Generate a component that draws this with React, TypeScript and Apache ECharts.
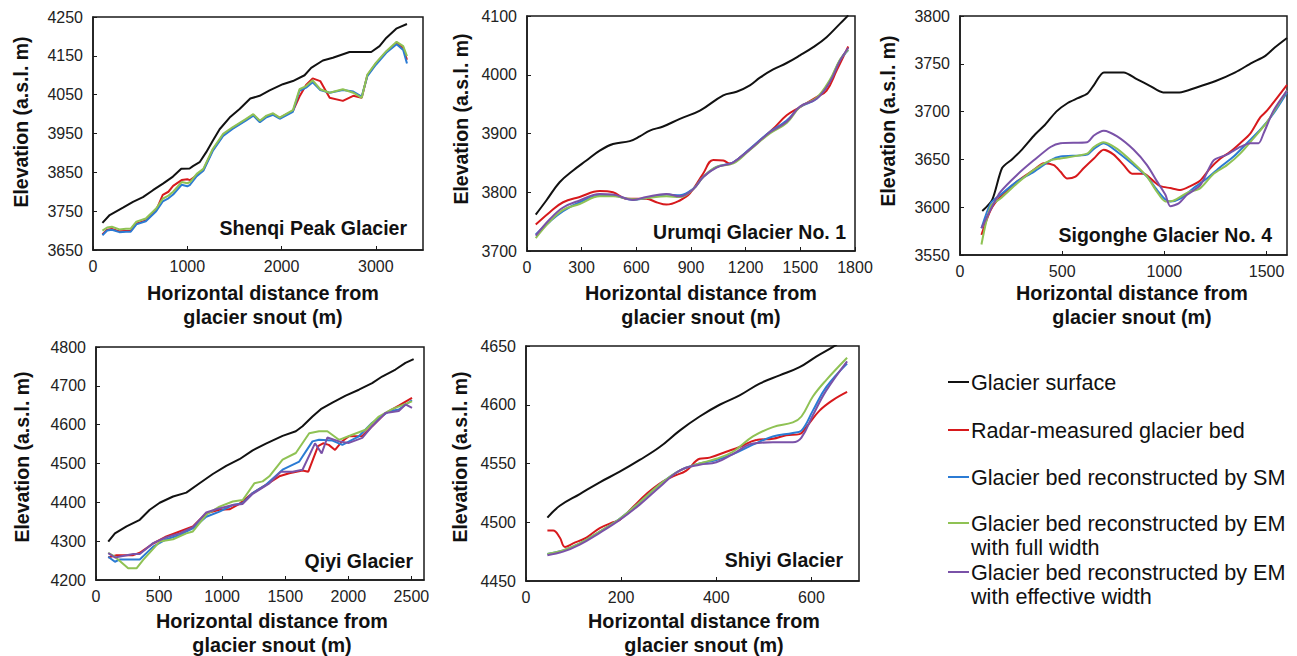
import React, { useEffect, useRef } from "react";
import * as echarts from "echarts";

// ---------- labels ----------
const seriesNames = [
  "Glacier surface",
  "Radar-measured glacier bed",
  "Glacier bed reconstructed by SM",
  "Glacier bed reconstructed by EM\nwith full width",
  "Glacier bed reconstructed by EM\nwith effective width",
];
const glacierNames = [
  "Shenqi Peak Glacier",
  "Urumqi Glacier No. 1",
  "Sigonghe Glacier No. 4",
  "Qiyi Glacier",
  "Shiyi Glacier",
];
const yAxisTitle = "Elevation (a.s.l. m)";
const xAxisTitle = ["Horizontal distance from", "glacier snout (m)"];

// ---------- axis ranges ----------
const xMax = [3500, 1800, 1600, 2600, 700];
const xInterval = [1000, 300, 500, 500, 200];
const yMin = [3650, 3700, 3550, 4200, 4450];
const yMax = [4250, 4100, 3800, 4800, 4650];
const yInterval = [100, 100, 50, 100, 50];

// ---------- Shenqi Peak Glacier ----------
const shenqiSurfaceX = [100, 177, 318, 424, 530, 636, 742, 848, 936, 1025, 1060, 1131, 1201, 1272, 1343, 1449, 1555, 1668, 1767, 1873, 2014, 2120, 2244, 2314, 2438, 2544, 2721, 2951, 3039, 3110, 3216, 3330];
const shenqiSurfaceY = [3720, 3740, 3759, 3774, 3786, 3804, 3821, 3839, 3859, 3860, 3866, 3876, 3902, 3932, 3961, 3991, 4013, 4040, 4047, 4061, 4077, 4085, 4100, 4119, 4138, 4145, 4160, 4160, 4175, 4196, 4220, 4232];
const shenqiBedX = [100, 150, 200, 280, 350, 400, 460, 560, 670, 740, 800, 850, 940, 1000, 1030, 1100, 1170, 1270, 1380, 1480, 1620, 1700, 1770, 1840, 1910, 1980, 2120, 2190, 2260, 2330, 2410, 2510, 2650, 2760, 2850, 2910, 3000, 3110, 3220, 3290, 3330];
const shenqiRadarY = [3690, 3702, 3704, 3698, 3699, 3699, 3718, 3726, 3752, 3792, 3800, 3815, 3830, 3832, 3830, 3842, 3856, 3908, 3946, 3964, 3985, 3998, 3981, 3994, 4000, 3990, 4008, 4045, 4075, 4092, 4085, 4042, 4034, 4047, 4042, 4100, 4130, 4160, 4183, 4170, 4140];
const shenqiSMY = [3688, 3700, 3702, 3696, 3697, 3697, 3716, 3724, 3750, 3775, 3783, 3793, 3818, 3814, 3818, 3840, 3854, 3905, 3944, 3962, 3983, 3996, 3979, 3992, 3998, 3988, 4006, 4060, 4068, 4082, 4062, 4055, 4062, 4058, 4045, 4098, 4127, 4158, 4180, 4165, 4130];
const shenqiEMFullY = [3700, 3708, 3710, 3703, 3705, 3705, 3723, 3731, 3757, 3782, 3790, 3800, 3825, 3822, 3825, 3846, 3859, 3910, 3949, 3966, 3987, 4000, 3983, 3996, 4002, 3991, 4010, 4064, 4072, 4087, 4064, 4055, 4064, 4055, 4042, 4102, 4132, 4162, 4186, 4175, 4149];

// ---------- Urumqi Glacier No. 1 ----------
const urumqiSurfaceX = [48, 106, 179, 253, 326, 399, 472, 564, 619, 674, 747, 839, 949, 1077, 1150, 1223, 1278, 1351, 1425, 1498, 1571, 1644, 1718, 1763];
const urumqiSurfaceY = [3762, 3786, 3817, 3837, 3854, 3871, 3882, 3887, 3895, 3905, 3912, 3925, 3939, 3965, 3971, 3982, 3995, 4009, 4020, 4033, 4047, 4064, 4087, 4101];
const urumqiRadarX = [48, 125, 198, 289, 399, 472, 545, 655, 710, 765, 839, 894, 967, 1022, 1077, 1113, 1168, 1260, 1351, 1425, 1498, 1589, 1644, 1699, 1763];
const urumqiRadarY = [3745, 3766, 3783, 3792, 3802, 3800, 3789, 3789, 3783, 3779, 3786, 3798, 3832, 3855, 3854, 3849, 3859, 3883, 3908, 3931, 3945, 3962, 3973, 4007, 4048];
const urumqiModelX = [48, 125, 198, 289, 399, 472, 582, 655, 765, 839, 912, 967, 1040, 1132, 1223, 1333, 1425, 1498, 1589, 1663, 1718, 1763];
const urumqiSMY = [3728, 3750, 3768, 3783, 3794, 3794, 3787, 3790, 3796, 3795, 3806, 3826, 3843, 3851, 3874, 3903, 3922, 3945, 3959, 3990, 4025, 4042];
const urumqiEMFullY = [3722, 3750, 3770, 3780, 3793, 3793, 3788, 3790, 3793, 3792, 3805, 3826, 3843, 3849, 3872, 3900, 3918, 3945, 3961, 3992, 4026, 4043];
const urumqiEMEffY = [3726, 3754, 3774, 3786, 3797, 3796, 3787, 3792, 3797, 3793, 3805, 3826, 3842, 3851, 3873, 3902, 3920, 3946, 3959, 3988, 4024, 4046];

// ---------- Sigonghe Glacier No. 4 ----------
const sigongheSurfaceX = [109, 158, 206, 254, 302, 367, 415, 471, 527, 576, 624, 656, 704, 801, 865, 929, 994, 1074, 1154, 1251, 1347, 1428, 1492, 1540, 1600];
const sigongheSurfaceY = [3596, 3608, 3641, 3650, 3660, 3676, 3686, 3700, 3709, 3714, 3719, 3728, 3741, 3741, 3734, 3727, 3720, 3720, 3725, 3732, 3741, 3751, 3758, 3767, 3777];
const sigongheRadarX = [105, 150, 198, 280, 361, 410, 459, 492, 524, 565, 606, 655, 703, 752, 801, 842, 899, 948, 980, 1029, 1078, 1127, 1176, 1225, 1274, 1322, 1371, 1420, 1469, 1502, 1600];
const sigongheRadarY = [3571, 3597, 3611, 3627, 3639, 3646, 3644, 3637, 3630, 3632, 3641, 3651, 3660, 3655, 3644, 3635, 3635, 3627, 3622, 3620, 3618, 3622, 3628, 3641, 3651, 3658, 3667, 3677, 3694, 3701, 3728];
const sigongheSMX = [105, 150, 198, 280, 361, 443, 492, 622, 655, 703, 769, 850, 915, 964, 1005, 1029, 1078, 1143, 1208, 1274, 1339, 1404, 1469, 1534, 1600];
const sigongheSMY = [3578, 3604, 3613, 3627, 3637, 3649, 3653, 3655, 3661, 3667, 3658, 3644, 3632, 3618, 3608, 3606, 3609, 3620, 3630, 3642, 3653, 3667, 3681, 3698, 3720];
const sigongheEMFullX = [105, 150, 198, 280, 361, 443, 492, 622, 655, 703, 769, 850, 915, 964, 1005, 1046, 1111, 1176, 1241, 1306, 1371, 1436, 1502, 1600];
const sigongheEMFullY = [3561, 3601, 3609, 3625, 3639, 3649, 3651, 3656, 3663, 3668, 3661, 3646, 3632, 3616, 3606, 3607, 3615, 3620, 3635, 3644, 3656, 3672, 3689, 3722];
const sigongheEMEffX = [105, 158, 198, 280, 361, 443, 492, 622, 655, 703, 769, 850, 915, 964, 1005, 1029, 1070, 1111, 1176, 1241, 1306, 1371, 1420, 1461, 1485, 1534, 1600];
const sigongheEMEffY = [3578, 3601, 3616, 3634, 3649, 3663, 3667, 3668, 3675, 3680, 3674, 3660, 3644, 3627, 3613, 3601, 3604, 3613, 3623, 3649, 3655, 3663, 3667, 3667, 3677, 3701, 3722];

// ---------- Qiyi Glacier ----------
const qiyiSurfaceX = [97, 150, 242, 347, 426, 505, 611, 716, 821, 926, 1032, 1137, 1242, 1347, 1479, 1584, 1637, 1716, 1782, 1874, 1979, 2084, 2189, 2268, 2374, 2453, 2518];
const qiyiSurfaceY = [4299, 4320, 4338, 4355, 4381, 4399, 4415, 4425, 4449, 4473, 4494, 4511, 4534, 4551, 4571, 4583, 4596, 4621, 4640, 4657, 4675, 4690, 4707, 4724, 4742, 4759, 4769];
const qiyiRadarX = [97, 163, 295, 347, 453, 558, 663, 768, 874, 979, 1058, 1137, 1242, 1347, 1453, 1532, 1637, 1683, 1760, 1800, 1845, 1895, 1947, 2005, 2111, 2189, 2295, 2400, 2505];
const qiyiRadarY = [4258, 4264, 4264, 4270, 4294, 4312, 4325, 4338, 4372, 4381, 4382, 4396, 4424, 4445, 4467, 4475, 4482, 4479, 4545, 4552, 4548, 4535, 4556, 4570, 4571, 4596, 4630, 4649, 4669];
const qiyiSMX = [97, 150, 190, 347, 453, 558, 663, 768, 874, 979, 1084, 1163, 1242, 1347, 1479, 1611, 1716, 1768, 1874, 1953, 2084, 2189, 2321, 2400, 2505];
const qiyiSMY = [4260, 4247, 4253, 4253, 4286, 4305, 4316, 4333, 4363, 4376, 4393, 4398, 4424, 4445, 4484, 4505, 4557, 4561, 4559, 4548, 4570, 4605, 4634, 4639, 4663];
const qiyiEMFullX = [97, 150, 255, 321, 374, 505, 611, 716, 768, 874, 979, 1084, 1163, 1255, 1321, 1374, 1479, 1584, 1690, 1768, 1834, 1926, 2032, 2137, 2242, 2347, 2505];
const qiyiEMFullY = [4270, 4260, 4230, 4230, 4252, 4299, 4305, 4320, 4325, 4368, 4389, 4402, 4406, 4449, 4454, 4467, 4510, 4527, 4578, 4583, 4583, 4561, 4574, 4587, 4621, 4640, 4660];
const qiyiEMEffX = [97, 150, 295, 347, 453, 558, 663, 768, 874, 953, 1084, 1163, 1242, 1374, 1466, 1558, 1637, 1736, 1789, 1834, 1926, 2005, 2111, 2189, 2295, 2400, 2453, 2505];
const qiyiEMEffY = [4269, 4258, 4267, 4267, 4295, 4310, 4320, 4336, 4374, 4382, 4393, 4396, 4422, 4449, 4479, 4479, 4484, 4552, 4526, 4567, 4557, 4553, 4566, 4596, 4630, 4635, 4652, 4643];

// ---------- Shiyi Glacier ----------
const shiyiSurfaceX = [45, 71, 113, 155, 197, 239, 281, 323, 365, 407, 449, 491, 533, 575, 610, 652, 670];
const shiyiSurfaceY = [4504, 4514, 4524, 4534, 4543, 4553, 4564, 4578, 4590, 4600, 4608, 4618, 4625, 4632, 4641, 4651, 4657];
const shiyiRadarX = [45, 57, 71, 82, 99, 127, 155, 183, 197, 225, 253, 281, 309, 337, 365, 386, 421, 449, 484, 519, 547, 575, 589, 617, 645, 675];
const shiyiRadarY = [4493, 4493, 4487, 4479, 4482, 4487, 4495, 4500, 4502, 4513, 4524, 4533, 4539, 4544, 4554, 4555, 4560, 4564, 4570, 4571, 4574, 4575, 4581, 4595, 4604, 4611];
const shiyiModelX = [45, 78, 113, 155, 197, 239, 281, 323, 365, 400, 435, 477, 519, 561, 579, 603, 631, 675];
const shiyiSMY = [4473, 4476, 4482, 4492, 4503, 4517, 4532, 4544, 4550, 4553, 4558, 4566, 4573, 4576, 4578, 4595, 4615, 4635];
const shiyiEMFullY = [4473, 4476, 4482, 4492, 4503, 4517, 4532, 4544, 4550, 4554, 4560, 4573, 4581, 4585, 4590, 4607, 4621, 4640];
const shiyiEMEffY = [4472, 4475, 4481, 4491, 4502, 4515, 4530, 4544, 4549, 4551, 4558, 4567, 4568, 4568, 4572, 4591, 4612, 4637];

// ---------- styling (not data) ----------
const seriesColors = ["#111111", "#d7191c", "#2b7bd4", "#8fc254", "#7a52a8"];
const FONT = "'Liberation Sans', Arial, Helvetica, sans-serif";
const grids = [
  { left: 93, top: 17, width: 330, height: 233 },
  { left: 527, top: 16, width: 328, height: 235 },
  { left: 960, top: 16, width: 327, height: 239 },
  { left: 96, top: 347, width: 328, height: 233 },
  { left: 526, top: 346, width: 333, height: 235 },
];
const yTitlePos = [[21, 122], [461, 119], [888, 121], [22, 457], [460, 457]];
const xTitlePos = [[263, 293], [701, 293], [1132, 293], [272, 621], [704, 621]];
const namePos = [[407, 228], [846, 232], [1272, 235], [413, 561], [843, 560]];
const smoothness = [false, 0.4, 0.25, false, 0.4];
const legendRows = [382, 430, 477, 523, 572];

type XY = [number[], number[]] | null;
const zip = (xs: number[], ys: number[]) => xs.map((x, i) => [x, ys[i]]);

const panelData: XY[][] = [
  [[shenqiSurfaceX, shenqiSurfaceY], [shenqiBedX, shenqiRadarY], [shenqiBedX, shenqiSMY], [shenqiBedX, shenqiEMFullY], null],
  [[urumqiSurfaceX, urumqiSurfaceY], [urumqiRadarX, urumqiRadarY], [urumqiModelX, urumqiSMY], [urumqiModelX, urumqiEMFullY], [urumqiModelX, urumqiEMEffY]],
  [[sigongheSurfaceX, sigongheSurfaceY], [sigongheRadarX, sigongheRadarY], [sigongheSMX, sigongheSMY], [sigongheEMFullX, sigongheEMFullY], [sigongheEMEffX, sigongheEMEffY]],
  [[qiyiSurfaceX, qiyiSurfaceY], [qiyiRadarX, qiyiRadarY], [qiyiSMX, qiyiSMY], [qiyiEMFullX, qiyiEMFullY], [qiyiEMEffX, qiyiEMEffY]],
  [[shiyiSurfaceX, shiyiSurfaceY], [shiyiRadarX, shiyiRadarY], [shiyiModelX, shiyiSMY], [shiyiModelX, shiyiEMFullY], [shiyiModelX, shiyiEMEffY]],
];

function textEl(text: string, x: number, y: number, size: number, bold: boolean, align: string, rotation = 0) {
  return {
    type: "text",
    x,
    y,
    rotation,
    silent: true,
    style: {
      text,
      fill: "#111",
      fontSize: size,
      fontWeight: bold ? "bold" : "normal",
      fontFamily: FONT,
      align,
      textAlign: align,
      verticalAlign: "middle",
      textVerticalAlign: "middle",
    },
  };
}

const plain = (v: number) => String(v);

export default function App() {
  const ref = useRef<HTMLDivElement>(null);
  useEffect(() => {
    if (!ref.current) return;
    const chart = echarts.init(ref.current, undefined, { renderer: "svg" });
    const axisColor = "#1a1a1a";

    const xAxis = grids.map((_, i) => ({
      type: "value",
      gridIndex: i,
      min: 0,
      max: xMax[i],
      interval: xInterval[i],
      axisLine: { show: true, onZero: false, lineStyle: { color: axisColor, width: 1.5 } },
      axisTick: { show: true, inside: true, length: 4, lineStyle: { color: axisColor, width: 1 } },
      axisLabel: {
        fontSize: 16,
        color: "#222",
        fontFamily: FONT,
        margin: 8,
        formatter: plain,
        showMaxLabel: xMax[i] % xInterval[i] === 0,
      },
      splitLine: { show: false },
    }));
    const yAxis = grids.map((_, i) => ({
      type: "value",
      gridIndex: i,
      min: yMin[i],
      max: yMax[i],
      interval: yInterval[i],
      axisLine: { show: true, lineStyle: { color: axisColor, width: 1.5 } },
      axisTick: { show: true, inside: true, length: 4, lineStyle: { color: axisColor, width: 1 } },
      axisLabel: { fontSize: 16, color: "#222", fontFamily: FONT, margin: 10, formatter: plain },
      splitLine: { show: false },
    }));

    const series: any[] = [];
    panelData.forEach((panel, pi) => {
      panel.forEach((xy, si) => {
        if (!xy) return;
        series.push({
          type: "line",
          name: seriesNames[si],
          xAxisIndex: pi,
          yAxisIndex: pi,
          data: zip(xy[0], xy[1]),
          showSymbol: false,
          symbol: "none",
          smooth: smoothness[pi],
          clip: true,
          lineStyle: { color: seriesColors[si], width: 2 },
          z: 2 + si,
        });
      });
    });

    const graphic: any[] = [];
    grids.forEach((_, i) => {
      graphic.push(textEl(yAxisTitle, yTitlePos[i][0], yTitlePos[i][1], 19.5, true, "center", Math.PI / 2));
      graphic.push(textEl(xAxisTitle[0], xTitlePos[i][0], xTitlePos[i][1], 19.8, true, "center"));
      graphic.push(textEl(xAxisTitle[1], xTitlePos[i][0], xTitlePos[i][1] + 24, 19.8, true, "center"));
      graphic.push(textEl(glacierNames[i], namePos[i][0], namePos[i][1], 19.5, true, "right"));
    });
    seriesNames.forEach((name, i) => {
      const cy = legendRows[i];
      graphic.push({
        type: "line",
        silent: true,
        shape: { x1: 948, y1: cy, x2: 969, y2: cy },
        style: { stroke: seriesColors[i], lineWidth: 2 },
      });
      name.split("\n").forEach((line, li) => {
        graphic.push(textEl(line, 971, cy + li * 24, 21.6, false, "left"));
      });
    });

    chart.setOption({
      animation: false,
      backgroundColor: "#ffffff",
      grid: grids.map((g) => ({ ...g, show: true, borderColor: axisColor, borderWidth: 1.5, backgroundColor: "transparent" })),
      xAxis,
      yAxis,
      series,
      graphic,
    });
    return () => chart.dispose();
  }, []);
  return <div ref={ref} style={{ position: "absolute", left: 0, top: 0, width: 1297, height: 656 }} />;
}
